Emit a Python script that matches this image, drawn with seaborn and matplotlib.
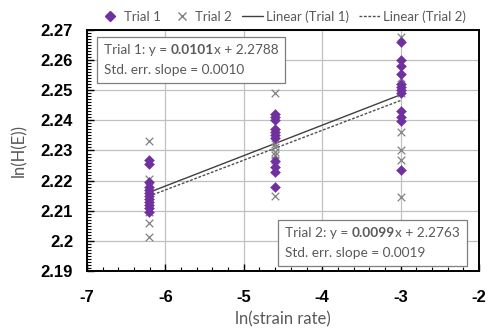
import numpy as np
import pandas as pd
import matplotlib
matplotlib.use("Agg")
import matplotlib.pyplot as plt
import seaborn as sns
from matplotlib.lines import Line2D
from matplotlib.ticker import MultipleLocator, FuncFormatter
from matplotlib.offsetbox import TextArea, HPacker, VPacker, AnchoredOffsetbox

# ---------------- data ----------------
ln_rates = [-6.2146, -4.6052, -2.9957]
trial1_left = [2.2268, 2.2255, 2.2195, 2.2180, 2.2170, 2.2160, 2.2150, 2.2140, 2.2130, 2.2120, 2.2110, 2.2095]
trial1_mid = [2.2420, 2.2410, 2.2400, 2.2370, 2.2360, 2.2350, 2.2340, 2.2265, 2.2245, 2.2230, 2.2180]
trial1_right = [2.2660, 2.2600, 2.2580, 2.2555, 2.2520, 2.2510, 2.2500, 2.2490, 2.2430, 2.2412, 2.2397, 2.2235]
trial2_left = [2.2330, 2.2205, 2.2180, 2.2150, 2.2130, 2.2095, 2.2058, 2.2012]
trial2_mid = [2.2490, 2.2320, 2.2310, 2.2295, 2.2285, 2.2270, 2.2235, 2.2150]
trial2_right = [2.2678, 2.2540, 2.2510, 2.2490, 2.2362, 2.2301, 2.2270, 2.2147]
fit_slopes = [0.0101, 0.0099]
fit_intercepts = [2.2788, 2.2763]
fit_stderr = [0.0010, 0.0019]
x_ticks = [-7, -6, -5, -4, -3, -2]
y_ticks = [2.19, 2.20, 2.21, 2.22, 2.23, 2.24, 2.25, 2.26, 2.27]

def frame(vals_list, trial):
    rows = []
    for xv, vals in zip(ln_rates, vals_list):
        for v in vals:
            rows.append({"x": xv, "y": v, "trial": trial})
    return pd.DataFrame(rows)

df1 = frame([trial1_left, trial1_mid, trial1_right], "Trial 1")
df2 = frame([trial2_left, trial2_mid, trial2_right], "Trial 2")
xfit = np.array([min(ln_rates), max(ln_rates)])
fit1 = pd.DataFrame({"x": xfit, "y": fit_slopes[0] * xfit + fit_intercepts[0]})
fit2 = pd.DataFrame({"x": xfit, "y": fit_slopes[1] * xfit + fit_intercepts[1]})

# ---------------- style ----------------
sns.set_style("white")
plt.rcParams["axes.unicode_minus"] = False
plt.rcParams["font.family"] = ["Lato", "DejaVu Sans"]

GRAY_TXT = "#595959"
PURPLE = "#7030A0"
XGRAY = "#808080"

fig = plt.figure(figsize=(4.93, 3.31), dpi=100)
ax = fig.add_axes([0.1765, 0.1813, 0.7951, 0.7281])

ax.grid(True, which="major", color="#c0c0c0", lw=0.9, zorder=0)
ax.set_axisbelow(True)

sns.lineplot(data=fit1, x="x", y="y", ax=ax, color="#404040", lw=1.0, zorder=2)
sns.lineplot(data=fit2, x="x", y="y", ax=ax, color="#505050", lw=1.0, ls=(0, (2, 1.2)), zorder=2)
sns.scatterplot(data=df2, x="x", y="y", ax=ax, marker="x", color=XGRAY, s=30, linewidth=0.9, zorder=3)
sns.scatterplot(data=df1, x="x", y="y", ax=ax, marker="D", color=PURPLE, s=26, edgecolor=PURPLE, linewidth=0.3, zorder=4)

ax.set_xlim(-7, -2)
ax.set_ylim(2.19, 2.27)
ax.set_xticks(x_ticks)
ax.set_yticks(y_ticks)
ax.xaxis.set_minor_locator(MultipleLocator(0.2))
ax.yaxis.set_minor_locator(MultipleLocator(0.001))
ax.yaxis.set_major_formatter(FuncFormatter(lambda v, p: f"{v:.2f}".rstrip("0").rstrip(".")))
ax.xaxis.set_major_formatter(FuncFormatter(lambda v, p: f"{int(round(v))}"))

ax.tick_params(axis="both", which="major", direction="in", length=5, width=1.0, color="black")
ax.tick_params(axis="both", which="minor", direction="in", length=3, width=0.8, color="black")
ax.tick_params(axis="x", which="both", bottom=True, top=False, pad=14)
ax.tick_params(axis="y", which="both", left=True, right=False, pad=10)
for lab in ax.get_xticklabels() + ax.get_yticklabels():
    lab.set_fontfamily(["Liberation Sans Narrow", "Liberation Sans", "DejaVu Sans"])
    lab.set_fontweight("bold")
    lab.set_fontsize(12)
    lab.set_color("black")

for s in ax.spines.values():
    s.set_color("black")
    s.set_linewidth(1.4)

ax.set_xlabel("ln(strain rate)", fontsize=12, color=GRAY_TXT, labelpad=4)
ax.set_ylabel("ln(H(E))", fontsize=12, color=GRAY_TXT, labelpad=10)

# legend
handles = [
    Line2D([], [], marker="D", color=PURPLE, ls="none", markersize=5),
    Line2D([], [], marker="x", color=XGRAY, ls="none", markersize=6),
    Line2D([], [], color="#404040", lw=1.0),
    Line2D([], [], color="#505050", lw=1.0, ls=(0, (2, 1.2))),
]
labels = ["Trial 1", "Trial 2", "Linear (Trial 1)", "Linear (Trial 2)"]
leg = ax.legend(handles, labels, loc="lower center", bbox_to_anchor=(0.5, 1.0), ncol=4,
                frameon=False, fontsize=9.5, handlelength=1.6, handletextpad=0.2,
                columnspacing=0.8, borderaxespad=0.15)
for t in leg.get_texts():
    t.set_color(GRAY_TXT)

# annotation boxes with bold slope
def eqbox(i, loc, anchor):
    tp = dict(color=GRAY_TXT, fontsize=9.8)
    line1 = HPacker(children=[
        TextArea(f"Trial {i+1}: y = ", textprops=tp),
        TextArea(f"{fit_slopes[i]:.4f}", textprops=dict(tp, fontweight="bold")),
        TextArea(f"x + {fit_intercepts[i]:.4f}", textprops=tp),
    ], pad=0, sep=0)
    line2 = TextArea(f"Std. err. slope = {fit_stderr[i]:.4f}", textprops=tp)
    box = VPacker(children=[line1, line2], pad=0, sep=6, align="left")
    ab = AnchoredOffsetbox(loc=loc, child=box, pad=0.5, borderpad=0,
                           bbox_to_anchor=anchor, bbox_transform=fig.transFigure, frameon=True)
    ab.patch.set_edgecolor("#7f7f7f")
    ab.patch.set_linewidth(0.9)
    ab.patch.set_facecolor("white")
    ab.set_zorder(6)
    ax.add_artist(ab)

eqbox(0, "upper left", (97 / 493, 1 - 37 / 331))
eqbox(1, "upper left", (278 / 493, 1 - 220 / 331))

fig.savefig("out.png", dpi=100)
